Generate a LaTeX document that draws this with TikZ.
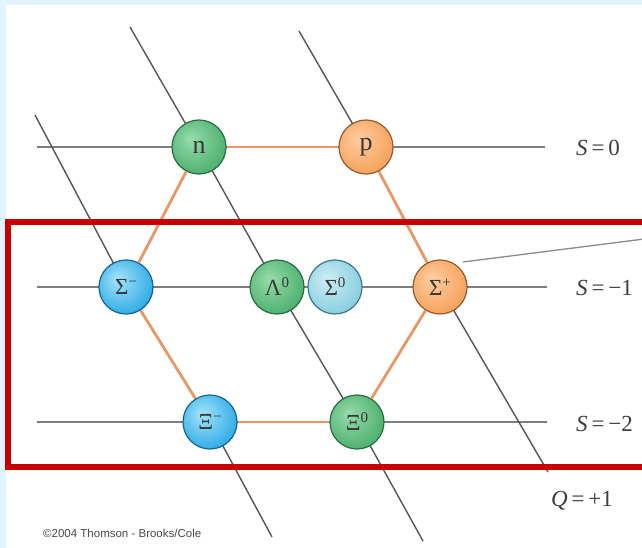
\documentclass[tikz,border=0pt]{standalone}
\usepackage{fontspec}
\setmainfont{Liberation Serif}
\newfontfamily\cpyfont{Liberation Sans}
\definecolor{bgblue}{RGB}{226,244,252}
\definecolor{grnL}{RGB}{150,220,170}
\definecolor{grnB}{RGB}{78,176,112}
\definecolor{grnD}{RGB}{62,158,96}
\definecolor{grnE}{RGB}{40,110,65}
\definecolor{orgL}{RGB}{255,205,160}
\definecolor{orgB}{RGB}{246,162,92}
\definecolor{orgD}{RGB}{232,142,72}
\definecolor{orgE}{RGB}{150,90,45}
\definecolor{bluL}{RGB}{165,228,250}
\definecolor{bluB}{RGB}{48,172,230}
\definecolor{bluD}{RGB}{30,148,210}
\definecolor{bluE}{RGB}{20,100,150}
\definecolor{cyaL}{RGB}{205,238,245}
\definecolor{cyaB}{RGB}{138,206,222}
\definecolor{cyaD}{RGB}{115,188,208}
\definecolor{cyaE}{RGB}{60,120,140}
\definecolor{sgray}{RGB}{125,125,125}
\definecolor{qgray}{RGB}{85,85,95}
\definecolor{hexo}{RGB}{232,152,102}
\definecolor{redbox}{RGB}{200,0,0}
\definecolor{labgray}{RGB}{60,60,60}
\definecolor{cpygray}{RGB}{75,75,75}
\pgfdeclareradialshading{shgrn}{\pgfpoint{-8bp}{8bp}}{color(0bp)=(grnL); color(30bp)=(grnB); color(48bp)=(grnD); color(60bp)=(grnD)}
\pgfdeclareradialshading{shorg}{\pgfpoint{-8bp}{8bp}}{color(0bp)=(orgL); color(30bp)=(orgB); color(48bp)=(orgD); color(60bp)=(orgD)}
\pgfdeclareradialshading{shblu}{\pgfpoint{-8bp}{8bp}}{color(0bp)=(bluL); color(30bp)=(bluB); color(48bp)=(bluD); color(60bp)=(bluD)}
\pgfdeclareradialshading{shcya}{\pgfpoint{-8bp}{8bp}}{color(0bp)=(cyaL); color(30bp)=(cyaB); color(48bp)=(cyaD); color(60bp)=(cyaD)}
\newcommand{\spx}[1]{\raisebox{8pt}{\fontsize{15}{15}\selectfont #1}}
\begin{document}
\begin{tikzpicture}[x=1pt,y=-1pt,
  particle/.style={circle, minimum size=54pt, inner sep=0pt, line width=1.2pt, text=black!78, shade},
  grnball/.style={particle, draw=grnE, shading=shgrn},
  orgball/.style={particle, draw=orgE, shading=shorg},
  bluball/.style={particle, draw=bluE, shading=shblu},
  cyaball/.style={particle, draw=cyaE, shading=shcya},
  nlabel/.style={font=\fontsize{26}{26}\selectfont},
  glabel/.style={font=\fontsize{23}{23}\selectfont},
  slat/.style={draw=sgray, line width=1.7pt},
  qlat/.style={draw=qgray, line width=1.4pt},
  hexedge/.style={draw=hexo, line width=2.8pt},
  callout/.style={draw=sgray!90, line width=1.3pt},
  frame/.style={draw=redbox, line width=6pt},
  axislabel/.style={anchor=base west, inner sep=0pt, font=\fontsize{23}{23}\selectfont, text=labgray},
]
\useasboundingbox (0,0) rectangle (642,548);
\clip (0,0) rectangle (642,548);
\fill[bgblue] (0,0) rectangle (642,548);
\fill[white] (6,5) rectangle (642,548);

% lattice points
\coordinate (cn) at (199,147);
\coordinate (cp) at (366,147);
\coordinate (csm) at (126,287);
\coordinate (cl0) at (277,287);
\coordinate (cs0) at (335,287);
\coordinate (csp) at (440,287);
\coordinate (cxm) at (210,422);
\coordinate (cx0) at (357,422);

% strangeness lines
\draw[slat] (37,147) -- (545,147);
\draw[slat] (37,287) -- (547,287);
\draw[slat] (37,422) -- (547,422);

% charge lines
\draw[qlat] (35,115) -- (csm) -- (cxm) -- (272,537);
\draw[qlat] (130,27) -- (cn) -- (cl0) -- (cx0) -- (423,541);
\draw[qlat] (299,31) -- (cp) -- (csp) -- (548,472);

% callout
\coordinate (callA) at (463,262);
\coordinate (callB) at (660,237);
\draw[callout] (callA) -- (callB);

% particles
\node[grnball, nlabel] (n) at (cn) {n};
\node[orgball, nlabel] (p) at (cp) {p};
\node[bluball, glabel] (sm) at (csm) {Σ\spx{−}};
\node[grnball, glabel] (l0) at (cl0) {Λ\spx{0}};
\node[cyaball, glabel] (s0) at (cs0) {Σ\spx{0}};
\node[orgball, glabel] (sp) at (csp) {Σ\spx{+}};
\node[bluball, glabel] (xm) at (cxm) {Ξ\spx{−}};
\node[grnball, glabel] (x0) at (cx0) {Ξ\spx{0}};

% hexagon
\draw[hexedge] (n) -- (p);
\draw[hexedge] (p) -- (sp);
\draw[hexedge] (sp) -- (x0);
\draw[hexedge] (x0) -- (xm);
\draw[hexedge] (xm) -- (sm);
\draw[hexedge] (sm) -- (n);

% labels
\node[axislabel] (lS0) at (576,156) {\textit{S}\,=\,0};
\node[axislabel] (lS1) at (576,295) {\textit{S}\,=\,−1};
\node[axislabel] (lS2) at (576,431) {\textit{S}\,=\,−2};
\node[axislabel] (lQ1) at (551,506) {\textit{Q}\,=\,+1};
\node[anchor=base west, inner sep=0pt, font=\cpyfont\fontsize{11.5}{12}\selectfont, text=cpygray] (copy) at (43,537) {©2004 Thomson - Brooks/Cole};

% red frame
\draw[frame] (7.5,221.5) rectangle (700,467);
\end{tikzpicture}
\end{document}
